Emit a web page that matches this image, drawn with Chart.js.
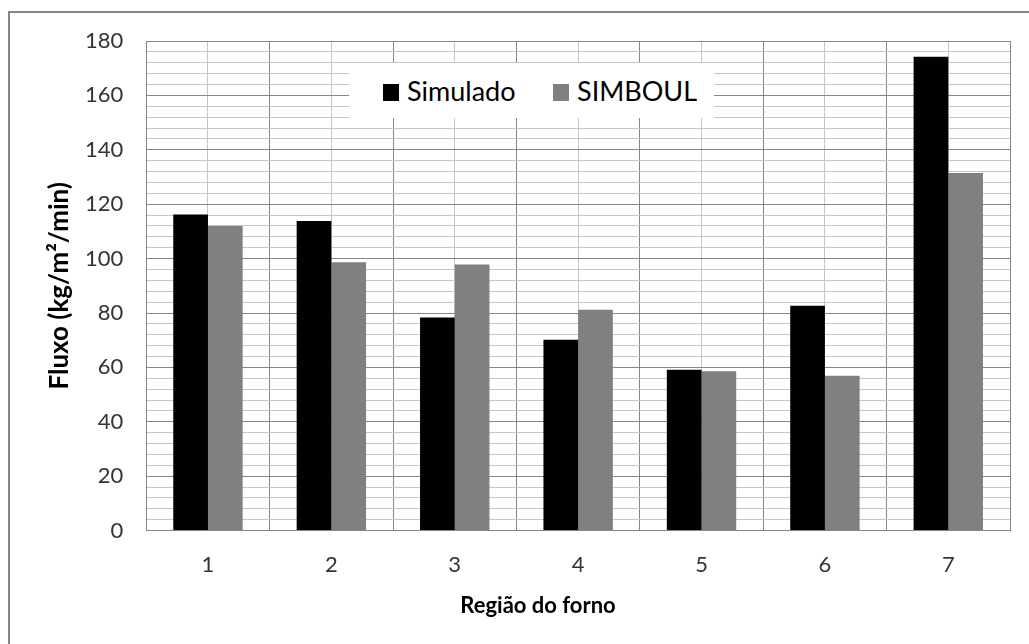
<!DOCTYPE html>
<html>
<head>
<meta charset="utf-8">
<script src="https://cdn.jsdelivr.net/npm/chart.js@4.4.0/dist/chart.umd.min.js"></script>
<style>
  html, body { margin: 0; padding: 0; background: #fff; }
  #wrap { position: relative; width: 1029px; height: 644px; }
  #legend {
    position: absolute; left: 349px; top: 63px; width: 365px; height: 55px;
    background: #fff; font-family: Lato, sans-serif; font-size: 27px; color: #000;
  }
  #legend .item { position: absolute; top: 0; height: 55px; line-height: 55px; white-space: nowrap; }
  #legend .swatch { display: inline-block; width: 16px; height: 17px; margin-right: 8px; vertical-align: middle; position: relative; top: -2px; }
</style>
</head>
<body>
<div id="wrap">
  <canvas id="chart_fluxo"></canvas>
  <div id="legend"></div>
</div>
<script>
var categories = ['1', '2', '3', '4', '5', '6', '7'];
var seriesNames = ['Simulado', 'SIMBOUL'];
var simulado = [116.2, 113.8, 78.3, 70.2, 59.1, 82.7, 174.2];
var simboul = [112.0, 98.7, 97.8, 81.2, 58.6, 56.9, 131.5];
var seriesColors = ['#000000', '#808080'];
var yTitle = 'Fluxo (kg/m²/min)';
var xTitle = 'Região do forno';

// html legend, sits inside the plot like the original
var legendEl = document.getElementById('legend');
var legendLeft = [34, 204];
seriesNames.forEach(function (name, i) {
  var item = document.createElement('div');
  item.className = 'item';
  item.style.left = legendLeft[i] + 'px';
  item.innerHTML = '<span class="swatch" style="background:' + seriesColors[i] + '"></span>' + name;
  legendEl.appendChild(item);
});

var chart_fluxo = new Chart(document.getElementById('chart_fluxo'), {
    type: 'bar',
    data: {
        labels: categories,
        datasets: [
            {
                label: seriesNames[0],
                backgroundColor: seriesColors[0],
                borderWidth: 0,
                data: simulado
            },
            {
                label: seriesNames[1],
                backgroundColor: seriesColors[1],
                borderWidth: 0,
                data: simboul
            }
        ]
    },
    options: {
        animation: false,
        responsive: true,
        maintainAspectRatio: false,
        categoryPercentage: 0.5625,
        barPercentage: 1.0,
        layout: {
            padding: { left: 62, top: 41, right: 19, bottom: 45 }
        },
        plugins: {
            legend: { display: false },
            tooltip: { enabled: false }
        },
        scales: {
            x: {
                offset: true,
                grid: { offset: true, color: '#868686', drawTicks: false },
                border: { color: '#868686' },
                ticks: {
                    padding: 21,
                    color: '#333',
                    font: { family: 'Lato', size: 22 }
                }
            },
            x2: {
                type: 'category',
                position: 'bottom',
                offset: true,
                grid: { offset: false, color: '#c6c6c6', drawTicks: false },
                border: { display: false },
                ticks: { display: false }
            },
            y: {
                min: 0,
                max: 180,
                grid: {
                    drawTicks: false,
                    color: function (ctx) {
                        return ctx.tick && ctx.tick.value % 20 === 0 ? '#868686' : '#c6c6c6';
                    }
                },
                border: { color: '#868686' },
                ticks: {
                    stepSize: 4,
                    maxTicksLimit: 100,
                    autoSkip: false,
                    padding: 23,
                    color: '#333',
                    font: { family: 'Lato', size: 22 },
                    callback: function (v) { return v % 20 === 0 ? v : ''; }
                }
            }
        }
    },
    plugins: [{
        id: 'frameAndTitles',
        beforeDraw: function (chart) {
            var ctx = chart.ctx;
            ctx.save();
            ctx.fillStyle = 'white';
            ctx.fillRect(0, 0, chart.width, chart.height);
            ctx.strokeStyle = '#868686';
            ctx.lineWidth = 2;
            ctx.beginPath();
            ctx.moveTo(9, chart.height);
            ctx.lineTo(9, 12);
            ctx.lineTo(chart.width, 12);
            ctx.stroke();
            ctx.restore();
        },
        afterDraw: function (chart) {
            var ctx = chart.ctx;
            var area = chart.chartArea;
            ctx.save();
            ctx.fillStyle = '#000';
            ctx.textAlign = 'center';
            ctx.textBaseline = 'middle';
            ctx.font = 'bold 22px Lato';
            ctx.fillText(xTitle, 538, 606);
            ctx.translate(60, (area.top + area.bottom) / 2);
            ctx.rotate(-Math.PI / 2);
            ctx.font = 'bold 26px Lato';
            ctx.fillText(yTitle, 0, 0);
            ctx.restore();
        }
    }]
});
</script>
</body>
</html>
